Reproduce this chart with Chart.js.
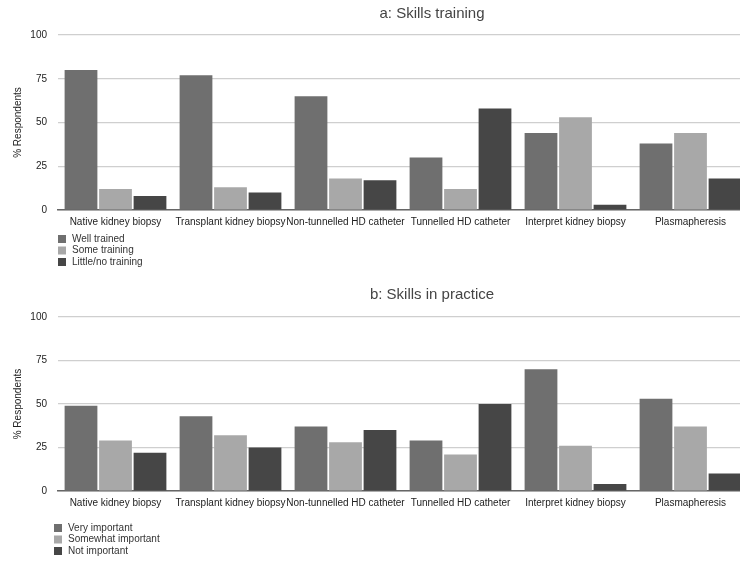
<!DOCTYPE html>
<html>
<head>
<meta charset="utf-8">
<title>Skills training and skills in practice</title>
<script src="https://cdn.jsdelivr.net/npm/chart.js@4.4.0/dist/chart.umd.min.js"></script>
<style>
    body { margin: 0; overflow: hidden; background: #fff; }
    canvas { display: block; }
</style>
</head>
<body>
<canvas id="chartA" width="750" height="280"></canvas>
<canvas id="chartB" width="750" height="281"></canvas>

<script>
const skills = ["Native kidney biopsy", "Transplant kidney biopsy", "Non-tunnelled HD catheter",
                "Tunnelled HD catheter", "Interpret kidney biopsy", "Plasmapheresis"];
const yTicks = [0, 25, 50, 75, 100];

// a: Skills training
const trainingLabels = ["Well trained", "Some training", "Little/no training"];
const wellTrained = [80, 77, 65, 30, 44, 38];
const someTraining = [12, 13, 18, 12, 53, 44];
const littleTraining = [8, 10, 17, 58, 3, 18];

// b: Skills in practice
const practiceLabels = ["Very important", "Somewhat important", "Not important"];
const veryImportant = [49, 43, 37, 29, 70, 53];
const somewhatImportant = [29, 32, 28, 21, 26, 37];
const notImportant = [22, 25, 35, 50, 4, 10];

const greys = ["#6f6f6f", "#a8a8a8", "#464646"];
const fontFamily = '"Liberation Sans", Arial, sans-serif';

// title and the stacked legend below the axis
const panelText = {
    id: 'panelText',
    afterDraw(chart, args, opts) {
        const ctx = chart.ctx;
        const area = chart.chartArea;
        ctx.save();
        ctx.fillStyle = '#444';
        ctx.font = '15px ' + fontFamily;
        ctx.textAlign = 'center';
        ctx.textBaseline = 'middle';
        ctx.fillText(opts.title, opts.titleX, opts.titleY);

        ctx.font = '10px ' + fontFamily;
        ctx.textAlign = 'left';
        chart.data.datasets.forEach((ds, i) => {
            let y = area.bottom + opts.legendTop + i * 11.5;
            ctx.fillStyle = ds.backgroundColor;
            ctx.fillRect(opts.legendX, y - 4, 8, 8);
            ctx.fillStyle = '#333';
            ctx.fillText(ds.label, opts.legendX + 14, y);
        });
        ctx.restore();
    }
};

function makeChart(id, title, titleY, names, series, legendX, legendTop, padTop) {
    let datasets = [];
    for (let i = 0; i < series.length; i++) {
        datasets.push({
            label: names[i],
            data: series[i],
            backgroundColor: greys[i],
            borderWidth: 0
        });
    }
    return new Chart(document.getElementById(id), {
        type: 'bar',
        data: { labels: skills, datasets: datasets },
        plugins: [panelText],
        options: {
            responsive: false,
            animation: false,
            devicePixelRatio: 1,
            categoryPercentage: 0.9,
            barPercentage: 0.95,
            layout: { padding: { top: padTop, right: 2, left: 0, bottom: 50 } },
            plugins: {
                legend: { display: false },
                tooltip: { enabled: false },
                panelText: { title: title, titleX: 432, titleY: titleY, legendX: legendX, legendTop: legendTop }
            },
            scales: {
                x: {
                    grid: { display: false, drawTicks: false },
                    border: { color: '#666', width: 1.5 },
                    ticks: { color: '#222', padding: 6, maxRotation: 0, autoSkip: false,
                             font: { family: fontFamily, size: 10 } },
                    afterFit: (s) => { s.height = 20; }
                },
                y: {
                    min: 0,
                    max: 100,
                    afterBuildTicks: (s) => { s.ticks = yTicks.map(v => ({ value: v })); },
                    grid: { color: '#cfcfcf', lineWidth: 1.2, drawTicks: false },
                    border: { display: false },
                    ticks: { color: '#222', padding: 11, font: { family: fontFamily, size: 10 } },
                    title: { display: true, text: '% Respondents', color: '#222', padding: { top: 12, bottom: 0 },
                             font: { family: fontFamily, size: 10 } },
                    afterFit: (s) => { s.width = 58; }
                }
            }
        }
    });
}

makeChart('chartA', 'a: Skills training', 14, trainingLabels,
          [wellTrained, someTraining, littleTraining], 58, 29, 35);
makeChart('chartB', 'b: Skills in practice', 15, practiceLabels,
          [veryImportant, somewhatImportant, notImportant], 54, 37, 37);
</script>
</body>
</html>
